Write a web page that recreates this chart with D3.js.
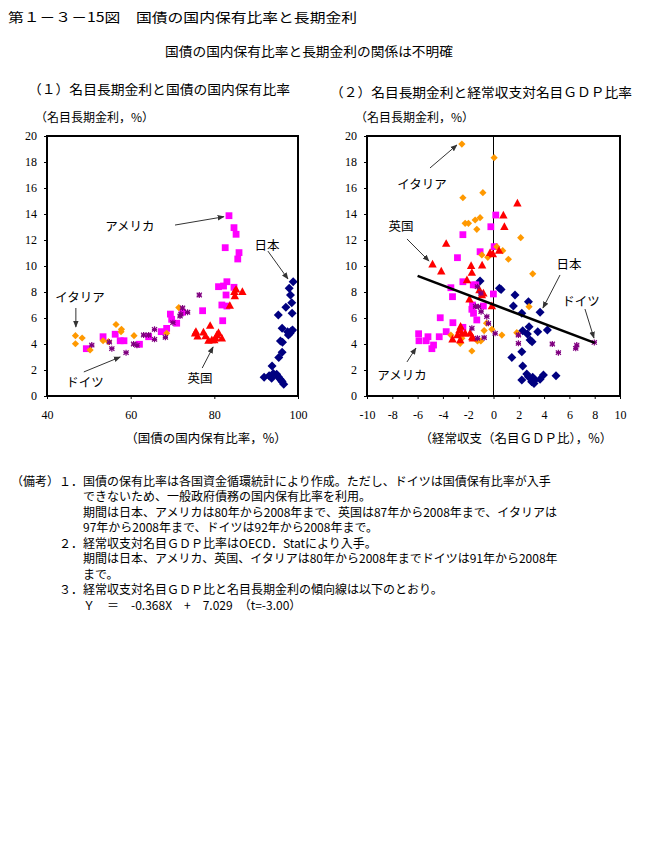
<!DOCTYPE html>
<html>
<head>
<meta charset="utf-8">
<script src="https://cdn.jsdelivr.net/npm/d3@7"></script>
<style>
  body { margin: 0; background: #fff; }
  svg { display: block; }
  .jp { font-family: "Noto Sans CJK JP", sans-serif; fill: #000; }
  .tick text { font-family: "Liberation Serif", "DejaVu Serif", serif; font-size: 12px; fill: #000; }
  .tick line { stroke: #000; }
</style>
</head>
<body>
<svg id="chart" width="659" height="857"></svg>
<script>
// 第1-3-15図 — 国債の国内保有比率と長期金利

// (1) 国内保有比率(%) vs 名目長期金利(%)
const japanHold = [[98.85,8.79],[97.9,8.28],[98.2,7.77],[98.5,7.18],[97.1,6.82],[98.6,6.36],[95.3,6.23],[96.2,5.21],[97.5,4.95],[98.1,4.82],[98.7,5.08],[97.7,4.69],[98.4,5.0],[95.8,4.23],[96.3,4.13],[96.2,3.36],[95.4,2.97],[93.8,2.31],[91.9,1.44],[93.1,1.56],[94.1,1.74],[94.9,1.67],[93.7,1.36],[95.3,1.49],[95.7,1.31],[96.2,1.1],[96.6,0.9],[96.0,1.2]];
const usaHold = [[83.5,13.87],[84.7,12.95],[85.2,12.44],[82.6,11.41],[85.9,11.03],[85.6,10.54],[83.0,8.79],[82.2,8.46],[81.0,8.41],[84.7,8.36],[82.8,7.77],[81.8,7.0],[83.0,6.92],[82.0,5.79],[77.2,6.56],[72.4,6.44],[69.5,6.3],[69.8,5.9],[71.0,5.6],[68.6,5.2],[67.3,4.95],[64.3,4.56],[62.1,3.98],[57.5,4.25],[58.4,4.25],[56.3,4.75],[53.4,4.56],[49.4,3.64]];
const ukHold = [[84.8,8.02],[86.7,8.02],[84.9,7.69],[85.2,8.2],[83.7,6.95],[75.6,4.95],[75.4,4.82],[77.4,4.9],[79.0,5.41],[81.0,4.87],[80.6,4.69],[81.8,4.44],[79.4,4.31],[78.6,4.26],[80.0,4.31],[77.9,4.62],[76.0,4.6],[80.3,4.45]];
const italyHold = [[46.8,4.64],[46.8,4.02],[48.4,4.46],[50.3,3.54],[53.4,4.25],[54.7,4.18],[56.5,5.5],[57.8,5.13],[57.7,4.95],[60.8,4.64],[68.6,4.82],[71.5,6.8]];
const germanyHold = [[50.7,3.92],[54.9,4.15],[55.5,3.64],[58.9,3.33],[60.7,4.0],[61.5,3.9],[63.1,4.69],[64.3,4.69],[65.7,5.13],[65.7,4.36],[68.3,4.51],[70.1,5.64],[71.8,6.15],[72.4,6.77],[73.6,6.44],[76.4,7.77],[72.0,6.3]];

// (2) 経常収支対名目GDP比(%) vs 名目長期金利(%)
const japanCA = [[-1.06,8.85],[0.47,8.28],[0.6,8.2],[1.7,7.77],[1.57,6.92],[2.76,7.25],[2.24,6.36],[3.68,6.44],[2.81,5.33],[2.31,5.02],[3.5,4.95],[4.26,5.08],[2.68,4.77],[2.89,4.31],[3.05,4.18],[2.24,3.41],[1.45,2.97],[2.31,2.31],[2.63,1.69],[2.76,1.49],[2.24,1.23],[3.1,1.44],[3.28,1.23],[3.02,1.1],[3.2,0.97],[3.68,1.28],[3.95,1.62],[4.94,1.56]];
const usaCA = [[0.18,13.92],[-0.21,13.02],[-2.42,12.41],[-2.85,10.64],[-1.06,11.1],[0.05,11.49],[-3.37,8.33],[-3.24,7.64],[-2.42,8.79],[-1.6,8.55],[-1.4,8.55],[-0.01,7.85],[-1.66,7.0],[-0.8,6.92],[-1.71,6.67],[-1.58,6.36],[-1.32,5.85],[-4.21,6.02],[-3.21,5.64],[-3.74,4.95],[-4.29,4.56],[-4.74,3.92],[-4.87,3.64],[-5.92,4.79],[-5.89,4.25],[-5.18,4.56],[-5.32,4.25],[-2.42,5.28]];
const ukCA = [[1.89,14.82],[0.78,13.9],[0.86,13.02],[-3.74,11.72],[-0.27,11.02],[-0.05,10.92],[0.44,11.18],[-4.82,10.13],[-4.13,9.59],[-1.77,10.02],[-0.9,10.05],[-1.71,9.49],[-2.1,8.92],[-1.11,8.15],[-0.92,7.77],[-0.8,7.9],[-1.9,7.44],[-0.13,6.92],[-2.69,5.08],[-2.5,4.82],[-2.85,4.69],[-2.24,4.82],[-1.85,4.82],[-1.63,4.44],[-3.24,4.36],[-2.6,5.35],[-2.63,4.3],[-1.68,4.53]];
const italyCA = [[-2.5,19.38],[0.05,18.33],[-0.84,15.64],[-2.42,15.25],[-2.24,13.28],[-1.98,13.28],[-1.45,13.54],[-1.06,13.72],[-1.32,12.82],[2.15,12.18],[0.26,11.49],[0.73,11.18],[-0.92,10.85],[-0.45,10.67],[1.18,10.52],[3.1,9.4],[2.81,6.87],[-0.55,5.6],[-0.74,5.03],[-0.13,5.13],[0.66,4.69],[1.84,4.87],[-3.37,4.69],[-2.5,4.44],[-2.63,4.05],[-1.27,4.23],[-1.0,4.23],[-1.71,3.46]];
const germanyCA = [[-1.27,8.41],[-1.0,7.9],[-1.19,6.87],[-0.98,6.49],[-0.53,6.1],[-0.4,5.59],[-1.71,5.21],[0.13,4.82],[-1.27,4.44],[-0.74,4.49],[1.97,4.69],[1.97,4.05],[4.65,4.0],[5.13,3.33],[6.58,3.92],[6.5,3.67],[7.97,4.12],[-1.42,6.9]];

// 傾向線 Y = -0.368X + 7.029
const trendSlope = -0.368;
const trendIntercept = 7.029;
const trendXs = [-6, 8];

const yTicks = [0, 2, 4, 6, 8, 10, 12, 14, 16, 18, 20];
const holdTicks = [40, 60, 80, 100];
const caTicks = [-10, -8, -6, -4, -2, 0, 2, 4, 6, 8, 10];

// annotations: [label, textX, textY, fromX, fromY, toX, toY] in data units
const holdNotes = [
  ['アメリカ', 59.8, 13.15, 70.6, 13.15, 82.3, 13.79],
  ['日本', 92.6, 11.69, 92.8, 11.15, 97.6, 9.0],
  ['イタリア', 47.9, 7.69, 46.9, 6.77, 46.9, 5.31],
  ['ドイツ', 49.1, 1.08, 48.8, 1.85, 57.5, 3.0],
  ['英国', 76.6, 1.46, 77.1, 2.15, 79.7, 3.77]
];
const caNotes = [
  ['イタリア', -5.65, 16.38, -5.02, 17.54, -2.89, 19.31],
  ['英国', -7.31, 13.15, -6.84, 12.08, -5.1, 10.38],
  ['日本', 5.97, 10.23, 5.26, 9.31, 3.91, 6.77],
  ['ドイツ', 6.92, 7.38, 7.23, 6.69, 7.94, 4.46],
  ['アメリカ', -7.23, 1.69, -6.84, 2.62, -6.13, 3.69]
];

const notesLines = [
  [11, '（備考）１．国債の保有比率は各国資金循環統計により作成。ただし、ドイツは国債保有比率が入手'],
  [83, 'できないため、一般政府債務の国内保有比率を利用。'],
  [83, '期間は日本、アメリカは80年から2008年まで、英国は87年から2008年まで、イタリアは'],
  [83, '97年から2008年まで、ドイツは92年から2008年まで。'],
  [59, '２．経常収支対名目ＧＤＰ比率はOECD．Statにより入手。'],
  [83, '期間は日本、アメリカ、英国、イタリアは80年から2008年までドイツは91年から2008年'],
  [83, 'まで。'],
  [59, '３．経常収支対名目ＧＤＰ比と名目長期金利の傾向線は以下のとおり。'],
  [83, 'Ｙ　＝　-0.368X　+　7.029　（t=-3.00）']
];

const COLORS = { japan: '#000080', usa: '#ff00ff', uk: '#ff0000', italy: '#ff9900', germany: '#800080' };

const svg = d3.select('#chart');
svg.append('rect').attr('width', 659).attr('height', 857).attr('fill', '#fff');

const defs = svg.append('defs');
defs.append('marker')
  .attr('id', 'arrow')
  .attr('viewBox', '0 0 10 10')
  .attr('refX', 9).attr('refY', 5)
  .attr('markerWidth', 7).attr('markerHeight', 7)
  .attr('orient', 'auto')
  .append('path')
  .attr('d', 'M0,1 L10,5 L0,9 z')
  .attr('fill', '#333');

function text(x, y, str, size, opts = {}) {
  const t = svg.append('text')
    .attr('class', 'jp')
    .attr('x', x).attr('y', y)
    .attr('dominant-baseline', 'central')
    .attr('font-size', size)
    .attr('text-anchor', opts.anchor || 'start')
    .text(str);
  if (opts.len) t.attr('textLength', opts.len).attr('lengthAdjust', 'spacingAndGlyphs');
  return t;
}

// titles
text(8, 16, '第１－３－15図　国債の国内保有比率と長期金利', 13, { len: 349 });
text(165, 50, '国債の国内保有比率と長期金利の関係は不明確', 13, { len: 288 });
text(28, 88, '（１）名目長期金利と国債の国内保有比率', 13, { len: 262 });
text(330, 91, '（２）名目長期金利と経常収支対名目ＧＤＰ比率', 13, { len: 302 });

// marker shapes
function drawMarks(g, data, kind, x, y) {
  const sel = g.append('g').selectAll('path').data(data).join('path')
    .attr('transform', d => `translate(${x(d[0])},${y(d[1])})`);
  if (kind === 'japan') {
    sel.attr('d', 'M0,-4.5 L4.5,0 L0,4.5 L-4.5,0 Z').attr('fill', COLORS.japan);
  } else if (kind === 'usa') {
    sel.attr('d', 'M-3.4,-3.4 H3.4 V3.4 H-3.4 Z').attr('fill', COLORS.usa);
  } else if (kind === 'uk') {
    sel.attr('d', 'M0,-4.5 L4.2,3.2 L-4.2,3.2 Z').attr('fill', COLORS.uk);
  } else if (kind === 'italy') {
    sel.attr('d', 'M0,-3.6 L3.6,0 L0,3.6 L-3.6,0 Z').attr('fill', COLORS.italy);
  } else {
    sel.attr('d', 'M0,-3 V3 M-2.6,-2.2 L2.6,2.2 M-2.6,2.2 L2.6,-2.2 M-2.6,0 H2.6')
      .attr('fill', 'none').attr('stroke', COLORS.germany).attr('stroke-width', 1.2);
  }
}

function drawPanel(cfg) {
  const x = d3.scaleLinear().domain(cfg.xDomain).range([cfg.left, cfg.right]);
  const y = d3.scaleLinear().domain([0, 20]).range([396, 136]);
  const g = svg.append('g');

  // axes
  g.append('g').attr('transform', `translate(0,396)`)
    .call(d3.axisBottom(x).tickValues(cfg.xTicks).tickSizeInner(3).tickSizeOuter(0).tickPadding(11).tickFormat(d => String(d)))
    .call(a => a.select('.domain').remove());
  g.append('g').attr('transform', `translate(${cfg.left},0)`)
    .call(d3.axisLeft(y).tickValues(yTicks).tickSizeInner(3).tickSizeOuter(0).tickPadding(7).tickFormat(d => String(d)))
    .call(a => a.select('.domain').remove());

  if (cfg.zeroLine) {
    g.append('line')
      .attr('x1', x(0)).attr('x2', x(0))
      .attr('y1', y(0)).attr('y2', y(20))
      .attr('stroke', '#000').attr('stroke-width', 1);
  }

  const marks = g.append('g');
  cfg.series.forEach(([data, kind]) => drawMarks(marks, data, kind, x, y));

  if (cfg.trend) {
    g.append('line')
      .attr('x1', x(trendXs[0])).attr('y1', y(trendSlope * trendXs[0] + trendIntercept))
      .attr('x2', x(trendXs[1])).attr('y2', y(trendSlope * trendXs[1] + trendIntercept))
      .attr('stroke', '#000').attr('stroke-width', 2.5);
  }

  // frame
  g.append('rect')
    .attr('x', cfg.left).attr('y', 136)
    .attr('width', cfg.right - cfg.left).attr('height', 260)
    .attr('fill', 'none').attr('stroke', '#000').attr('stroke-width', 2);

  // annotations
  cfg.notes.forEach(([label, tx, ty, fx, fy, ex, ey]) => {
    g.append('line')
      .attr('x1', x(fx)).attr('y1', y(fy))
      .attr('x2', x(ex)).attr('y2', y(ey))
      .attr('stroke', '#333').attr('stroke-width', 1)
      .attr('marker-end', 'url(#arrow)');
    text(x(tx), y(ty), label, 12.5, { anchor: 'middle' });
  });

  text(cfg.left - 12, 116, '（名目長期金利，%）', 12);
  text(cfg.xLabelX, 437, cfg.xLabel, 12.5, { anchor: 'middle' });
}

drawPanel({
  left: 47, right: 298, xDomain: [40, 100], xTicks: holdTicks,
  series: [[japanHold, 'japan'], [usaHold, 'usa'], [ukHold, 'uk'], [italyHold, 'italy'], [germanyHold, 'germany']],
  notes: holdNotes, xLabel: '（国債の国内保有比率，%）', xLabelX: 206
});

drawPanel({
  left: 367, right: 620, xDomain: [-10, 10], xTicks: caTicks, zeroLine: true, trend: true,
  series: [[japanCA, 'japan'], [usaCA, 'usa'], [italyCA, 'italy'], [ukCA, 'uk'], [germanyCA, 'germany']],
  notes: caNotes, xLabel: '（経常収支（名目ＧＤＰ比），%）', xLabelX: 516
});

// 備考
notesLines.forEach(([x0, line], i) => {
  text(x0, 480 + i * 15.5, line, 12);
});
</script>
</body>
</html>
